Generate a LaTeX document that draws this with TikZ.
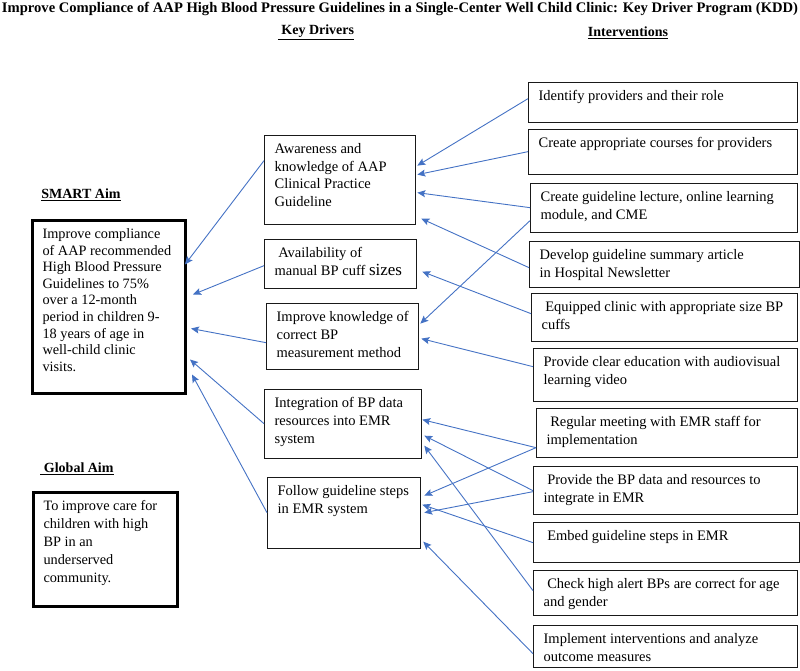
\documentclass[tikz,border=0pt]{standalone}
\usepackage{fontspec}
\setmainfont{Liberation Serif}
\usepackage{graphicx}
\usetikzlibrary{arrows.meta,calc}
\definecolor{kddblue}{RGB}{68,114,196}
% box text: outer width, outer height, lines
\newcommand{\boxtext}[3]{\parbox[t][\dimexpr#2pt-16pt\relax][t]{\dimexpr#1pt-20pt\relax}{\raggedright#3}}

\begin{document}
\begin{tikzpicture}[x=1pt, y=-1pt,
    every node/.style={font=\fontsize{14.5}{17.6}\selectfont},
    box/.style={draw=black!90, line width=1.3pt, anchor=north west,
                inner xsep=10pt, inner ysep=8pt},
    aim/.style={box, draw=black, line width=3pt},
    head/.style={font=\fontsize{14}{16}\selectfont\bfseries},
    arrow/.style={-{Stealth[length=8pt,width=7pt,inset=1.5pt]}, kddblue, line width=0.9pt}
  ]
    \useasboundingbox (0,0) rectangle (800,670);

    % headings
    \node[head] (title) at (400,9) {\resizebox{796pt}{!}{Improve Compliance of AAP High Blood Pressure Guidelines in a Single-Center Well Child Clinic: Key Driver Program (KDD)}};
    \node[head] (kdhead) at (316,32) {\underline{\ Key Drivers}};
    \node[head] (inthead) at (628,33) {\underline{Interventions}};
    \node[head] (smarthead) at (81,195) {\underline{SMART Aim}};
    \node[head] (globalhead) at (77,469) {\underline{\ Global Aim}};

    % aims
    \node[aim, font=\fontsize{14.3}{16.6}\selectfont] (smart) at (31,219) {\boxtext{153}{173}{Improve compliance\\ of AAP recommended\\ High Blood Pressure\\ Guidelines to 75\%\\ over a 12-month\\ period in children 9-\\ 18 years of age in\\ well-child clinic\\ visits.}};
    \node[aim, font=\fontsize{14.3}{18}\selectfont] (global) at (32,491) {\boxtext{144}{114}{To improve care for\\ children with high\\ BP in an\\ underserved\\ community.}};

    % key drivers
    \node[box] (kd1) at (264,135) {\boxtext{151}{89}{Awareness and\\ knowledge of AAP\\ Clinical Practice\\ Guideline}};
    \node[box] (kd2) at (264,239) {\boxtext{152}{49}{\ Availability of\\ manual BP cuff {\fontsize{17}{17.6}\selectfont sizes}}};
    \node[box] (kd3) at (266,303) {\boxtext{152}{66}{Improve knowledge of\\ correct BP\\ measurement method}};
    \node[box] (kd4) at (264,389) {\boxtext{157}{69}{Integration of BP data\\ resources into EMR\\ system}};
    \node[box] (kd5) at (267,477) {\boxtext{153}{71}{Follow guideline steps\\ in EMR system}};

    % interventions
    \node[box] (i1) at (528,82) {\boxtext{269}{40}{Identify providers and their role}};
    \node[box] (i2) at (528,129) {\boxtext{269}{45}{Create appropriate courses for providers}};
    \node[box] (i3) at (530,183) {\boxtext{267}{49}{Create guideline lecture, online learning\\ module, and CME}};
    \node[box] (i4) at (529,241) {\boxtext{270}{46}{Develop guideline summary article\\ in Hospital Newsletter}};
    \node[box] (i5) at (531,293) {\boxtext{266}{48}{\ Equipped clinic with appropriate size BP\\ cuffs}};
    \node[box] (i6) at (533,348) {\boxtext{264}{53}{Provide clear education with audiovisual\\ learning video}};
    \node[box] (i7) at (536,408) {\boxtext{261}{49}{\ Regular meeting with EMR staff for\\ implementation}};
    \node[box] (i8) at (533,466) {\boxtext{264}{48}{\ Provide the BP data and resources to\\ integrate in EMR}};
    \node[box] (i9) at (533,522) {\boxtext{266}{40}{\ Embed guideline steps in EMR}};
    \node[box] (i10) at (533,570) {\boxtext{264}{45}{\ Check high alert BPs are correct for age\\ and gender}};
    \node[box] (i11) at (533,625) {\boxtext{264}{42}{Implement interventions and analyze\\ outcome measures}};

    % connectors: source/offset/target/offsets
    \foreach \src/\sdy/\dst/\tdx/\tdy in {
        kd1/-19.5/smart/-2/-42.5, kd2/1.5/smart/6/-12.5, kd3/6/smart/4/21.5,
        kd4/-0.5/smart/3/52.5, kd5/-0.5/smart/5/67.5,
        i1/-4/kd1/1/-14.5, i2/-0.5/kd1/1/-5.5, i3/-0.5/kd1/1/12.5,
        i4/3/kd1/5/38.5, i3/12.5/kd3/1/-13, i5/-4/kd2/5/7.5,
        i6/-8.5/kd3/2/2, i7/14.5/kd4/0/-4.5, i7/14.5/kd5/3/-17.5,
        i8/0/kd4/2/11.5, i8/1/kd5/3/-0.5, i9/0/kd5/1/-8.5,
        i10/-2.5/kd4/2/21.5, i11/7/kd5/2/28.5}
      \draw[arrow] ($(\src.west)+(0,\sdy)$) -- ($(\dst.east)+(\tdx,\tdy)$);
\end{tikzpicture}
\end{document}
